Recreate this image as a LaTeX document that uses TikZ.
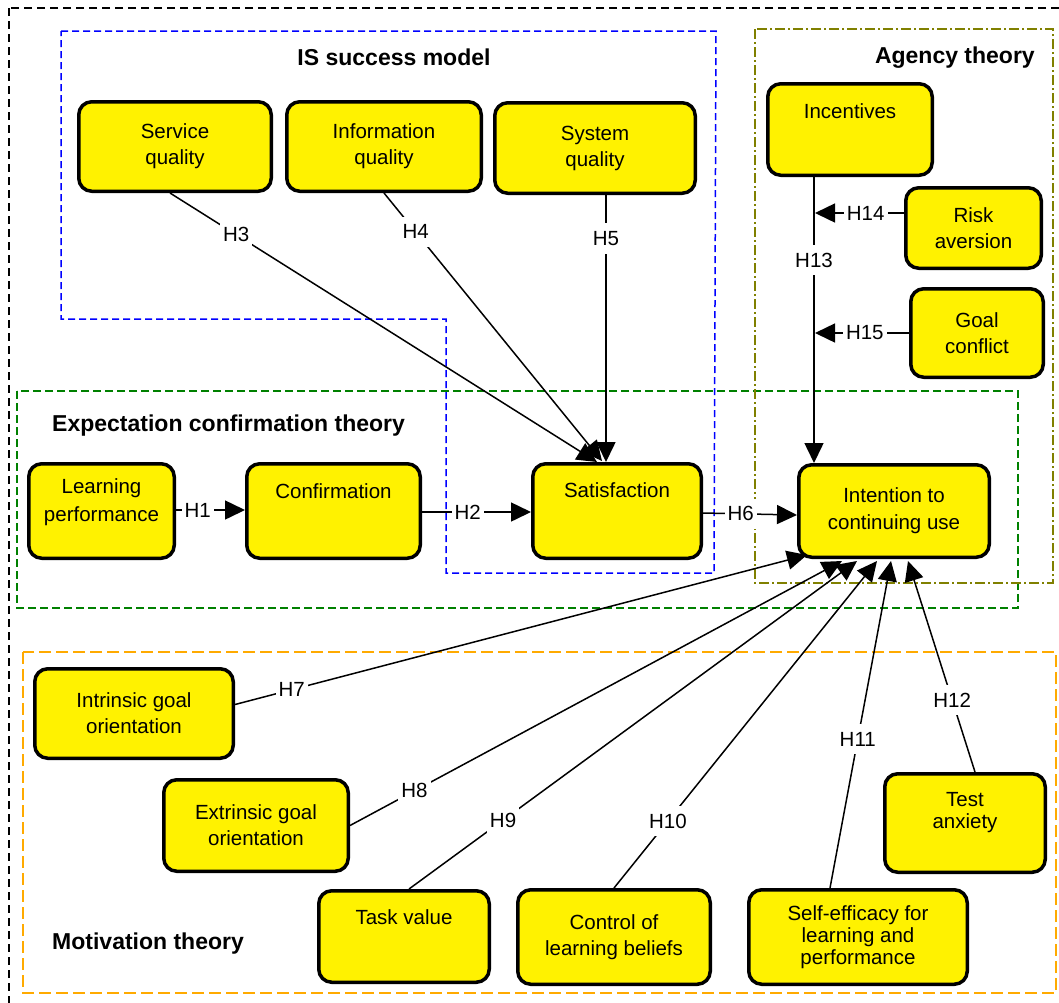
\documentclass[tikz,border=0pt]{standalone}
\usepackage{fontspec}
\setmainfont{Liberation Sans}
\usetikzlibrary{arrows.meta,calc}
\definecolor{olivec}{RGB}{128,128,0}
\definecolor{greenc}{RGB}{0,128,0}
\definecolor{bluec}{RGB}{0,0,255}
\definecolor{orangec}{RGB}{255,170,0}
\begin{document}
\begin{tikzpicture}[x=1pt,y=-1pt,
  box/.style={draw, line width=3.5pt, fill=yellow, rounded corners=13pt, align=center, inner sep=0pt,
    font=\fontsize{20.5}{26}\selectfont},
  conn/.style={line width=1.5pt, -{Triangle[length=20pt,width=19pt]}},
  lab/.style={fill=white, inner xsep=3pt, inner ysep=8pt, font=\fontsize{20.5}{24}\selectfont},
  ttl/.style={font=\fontsize{23}{26}\selectfont\bfseries, inner sep=0pt},
  frame/.style={line width=1.5pt}
]
\useasboundingbox (0,0) rectangle (1059,1002);
% frames
\draw[frame, black, dash pattern=on 8pt off 5pt] (9,8) rectangle (1066,1010);
\draw[frame, bluec, dash pattern=on 7pt off 4pt] (61,31) -- (716,31) -- (714,573) -- (446,573) -- (446,319) -- (61,319) -- cycle;
\draw[frame, greenc, dash pattern=on 8pt off 4pt] (17,391) rectangle (1018,608);
\draw[frame, olivec, dash pattern=on 10pt off 3pt on 2pt off 3pt] (755,29) rectangle (1053,583);
\draw[frame, orangec, dash pattern=on 12pt off 5pt] (23,652) rectangle (1056,993);
% titles
\node[ttl, anchor=base] (t-is) at (394,65) {IS success model};
\node[ttl, anchor=base east] (t-ag) at (1035,63) {Agency theory};
\node[ttl, anchor=base west] (t-ec) at (52,431) {Expectation confirmation theory};
\node[ttl, anchor=base west] (t-mo) at (52,949) {Motivation theory};
% boxes
\node[box, minimum width=192.5, minimum height=89.5] (sq) at (175,146.5) {Service\\quality};
\node[box, minimum width=194.5, minimum height=89.5] (iq) at (384,146.5) {Information\\quality};
\node[box, minimum width=200.5, minimum height=90.5] (sysq) at (595,148) {System\\quality};
\node[box, minimum width=164.5, minimum height=91.5] (inc) at (850,129.5) {Incentives\\[11pt]~};
\node[box, minimum width=135.5, minimum height=80.5] (risk) at (973.5,228) {Risk\\aversion};
\node[box, minimum width=132.5, minimum height=88.5] (goal) at (977,333) {Goal\\conflict};
\node[box, minimum width=145.5, minimum height=94.5, font=\fontsize{20.5}{28}\selectfont] (lp) at (101.5,511) {Learning\\performance\\[-5.7pt]~};
\node[box, minimum width=173.5, minimum height=94.5] (conf) at (333.5,511) {Confirmation\\[14pt]~};
\node[box, minimum width=168.5, minimum height=94.5] (sat) at (617,511) {Satisfaction\\[16pt]~};
\node[box, minimum width=190.5, minimum height=92.5, font=\fontsize{20.5}{27}\selectfont] (int) at (894,511) {Intention to\\continuing use};
\node[box, minimum width=198.5, minimum height=89.5] (intr) at (134,713.5) {Intrinsic goal\\orientation};
\node[box, minimum width=184.5, minimum height=91.5] (ext) at (256,825.5) {Extrinsic goal\\orientation};
\node[box, minimum width=170.5, minimum height=91.5] (tv) at (404,936.5) {Task value\\[12pt]~};
\node[box, minimum width=192.5, minimum height=94.5] (cb) at (614,937) {Control of\\learning beliefs};
\node[box, minimum width=218.5, minimum height=94.5, font=\fontsize{20.5}{22}\selectfont] (se) at (858,937) {Self-efficacy for\\learning and\\performance};
\node[box, minimum width=160.5, minimum height=98.5, font=\fontsize{20.5}{22}\selectfont] (ta) at (965,823) {Test\\anxiety\\[2.3pt]~};
% end points
\coordinate (s3) at (597,462);
\coordinate (s4) at (602,461);
\coordinate (s5) at (606,462);
\coordinate (i13) at (814,463);
\coordinate (h14e) at (815,213);
\coordinate (h15e) at (815,333);
\coordinate (i7) at (807,555);
\coordinate (i8) at (842,561);
\coordinate (i9) at (857,561);
\coordinate (i10) at (877,561);
\coordinate (i11) at (891,561);
\coordinate (i12) at (908,561);
% connectors
\draw[conn] (lp.east |- 0,510) -- node[lab, pos=0.315] {H1} (conf.west |- 0,510);
\draw[conn] (conf.east |- 0,512) -- node[lab, pos=0.42] {H2} (sat.west |- 0,512);
\draw[conn] (sat.east |- 0,513) -- node[lab, pos=0.4] {H6} (int.west |- 0,515);
\draw[conn] ($(sq.south)+(-5,0)$) -- node[lab, pos=0.155] {H3} (s3);
\draw[conn] (iq.south) -- node[lab, pos=0.145] {H4} (s4);
\draw[conn] (s5 |- sysq.south) -- node[lab, pos=0.163] {H5} (s5);
\draw[conn] (i13 |- inc.south) -- node[lab, pos=0.29] {H13} (i13);
\draw[conn] (h14e -| risk.west) -- node[lab, pos=0.43] {H14} (h14e);
\draw[conn] (h15e -| goal.west) -- node[lab, pos=0.47] {H15} (h15e);
\draw[conn] ($(intr.east)+(0,-9)$) -- node[lab, pos=0.099] {H7} (i7);
\draw[conn] (ext.east) -- node[lab, pos=0.131] {H8} (i8);
\draw[conn] ($(tv.north)+(5,0)$) -- node[lab, pos=0.21] {H9} (i9);
\draw[conn] (cb.north) -- node[lab, pos=0.205] {H10} (i10);
\draw[conn] ($(se.north)+(-28,0)$) -- node[lab, pos=0.455] {H11} (i11);
\draw[conn] ($(ta.north)+(10,0)$) -- node[lab, pos=0.34] {H12} (i12);
\end{tikzpicture}
\end{document}
